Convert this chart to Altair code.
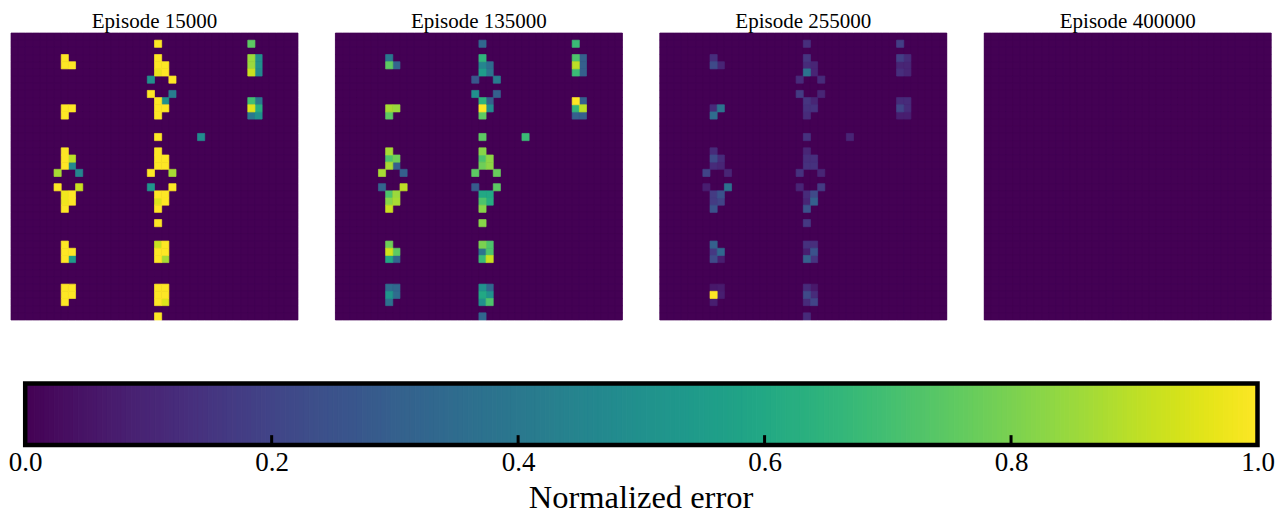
import altair as alt
import pandas as pd

GRID = 40
EPISODES = ["Episode 15000", "Episode 135000", "Episode 255000", "Episode 400000"]
TICKS = [0.0, 0.2, 0.4, 0.6, 0.8, 1.0]

ROWS = [1,1, 3,3,3,3, 4,4,4,4,4,4, 5,5,5,5, 6,6, 8,8, 9,9,9,9, 10,10,10,10,10,10, 11,11,11,11,
        14,14, 16,16, 17,17,17,17, 18,18,18,18, 19,19,19,19, 21,21,21,21, 22,22,22,22, 23,23,23,23,
        24,24, 26, 29,29,29, 30,30,30,30, 31,31,31,31, 35,35,35,35, 36,36,36,36, 37,37,37, 39]
COLS = [20,33, 7,20,33,34, 7,8,20,21,33,34, 20,21,33,34, 19,22, 19,22, 20,21,33,34, 7,8,20,21,33,34, 7,20,33,34,
        20,26, 7,20, 7,8,20,21, 7,8,20,21, 6,9,19,22, 6,9,19,22, 7,8,20,21, 7,8,20,21,
        7,20, 20, 7,20,21, 7,8,20,21, 7,8,20,21, 7,8,20,21, 7,8,20,21, 7,20,21, 20]
E15000 = [1,.75, 1,1,.85,.5, 1,1,1,1,.85,.5, .97,1,.92,.47, .5,1, 1,.42, 1,.5,.7,.4, 1,1,1,1,.95,.62, 1,1,.4,.5,
          1,.48, 1,1, 1,.9,1,1, 1,.47,1,1, .87,.45,1,.87, 1,.92,.52,1, .98,1,1,1, .98,1,.95,1,
          1,1, 1, 1,.92,1, 1,1,1,1, 1,.55,1,.87, 1,1,1,1, 1,1,1,1, 1,1,.95, 1]
E135000 = [.33,.68, .4,.65,.72,.3, .75,.32,.45,.35,.9,.3, .55,.38,.68,.3, .27,.42, .5,.3, .65,.3,1,.3, .87,.85,1,.48,.66,.9, .75,.75,.3,.3,
           .75,.68, .87,.82, .72,.78,.72,.83, .87,.3,.78,.83, .87,.3,.75,.77, .32,.9,.28,.75, .72,.85,.6,.6, .82,.87,.72,.62,
           .92,.82, .82, .78,.8,.72, .93,.75,.38,.72, .6,.33,.68,.92, .35,.33,.5,.33, .52,.35,.6,.5, .37,.5,.72, .33]
E255000 = [.13,.18, .13,.15,.18,.12, .22,.1,.12,.1,.1,.1, .38,.1,.13,.1, .12,.12, .17,.1, .15,.1,.12,.12, .12,.38,.14,.14,.2,.12, .35,.12,.08,.08,
           .14,.1, .12,.1, .22,.12,.13,.13, .12,.1,.14,.14, .2,.1,.14,.1, .08,.37,.1,.17, .17,.25,.12,.22, .17,.2,.1,.3,
           .25,.25, .16, .3,.14,.13, .16,.33,.08,.25, .22,.08,.3,.15, .06,.07,.12,.06, 1,.08,.22,.12, .08,.12,.2, .12]
E400000 = [0] * len(ROWS)
SERIES = [E15000, E135000, E255000, E400000]

LEVELS = 256
FONT = "Liberation Serif"
VIRIDIS0 = "#440154"
ROW_WIDTH = 1259
BAR_WIDTH = 1232.3
BAR_LEFT = 14.2
viridis = alt.Scale(scheme="viridis", domain=[0, 1])


def panel(title, values):
    lookup = {(r, c): v for r, c, v in zip(ROWS, COLS, values)}
    df = pd.DataFrame(
        [{"r": r, "r2": r + 1, "c": c, "c2": c + 1, "v": lookup.get((r, c), 0)}
         for r in range(GRID) for c in range(GRID)]
    ).sort_values("v", kind="stable")
    return (
        alt.Chart(df)
        .mark_rect(strokeWidth=0.7)
        .encode(
            x=alt.X("c:Q", scale=alt.Scale(domain=[0, GRID], nice=False), axis=None),
            x2="c2:Q",
            y=alt.Y("r:Q", scale=alt.Scale(domain=[GRID, 0], nice=False), axis=None),
            y2="r2:Q",
            color=alt.Color("v:Q", scale=viridis, legend=None),
            stroke=alt.Color("v:Q", scale=viridis, legend=None),
            order=alt.Order("v:Q"),
        )
        .properties(
            width=287,
            height=287,
            view=alt.ViewConfig(fill=VIRIDIS0),
            title=alt.TitleParams(title, font=FONT, fontSize=21, fontWeight="normal", color="black", offset=0.7),
        )
    )


row = alt.hconcat(*[panel(t, s) for t, s in zip(EPISODES, SERIES)], spacing=35.4)

bar_df = pd.DataFrame(
    {
        "a": [i / LEVELS for i in range(LEVELS)],
        "b": [(i + 1) / LEVELS for i in range(LEVELS)],
        "v": [(i + 0.5) / LEVELS for i in range(LEVELS)],
    }
)
x_scale = alt.Scale(domain=[-BAR_LEFT / BAR_WIDTH, (ROW_WIDTH - BAR_LEFT) / BAR_WIDTH], nice=False)
y_scale = alt.Scale(domain=[0, 1], nice=False)

grad = (
    alt.Chart(bar_df)
    .mark_rect(strokeWidth=1)
    .encode(
        x=alt.X(
            "a:Q",
            scale=x_scale,
            axis=alt.Axis(
                values=TICKS, format=".1f", title="Normalized error", grid=False, domain=False, tickSize=0,
                labelFont=FONT, labelFontSize=27, labelColor="black", labelPadding=4,
                labelOverlap=False, labelFlush=False,
                titleFont=FONT, titleFontSize=32.5, titleFontWeight="normal", titleColor="black", titlePadding=6,
            ),
        ),
        x2="b:Q",
        y=alt.value(0),
        y2=alt.value(61.5),
        color=alt.Color("v:Q", scale=viridis, legend=None),
        stroke=alt.Color("v:Q", scale=viridis, legend=None),
    )
)
tick_df = pd.DataFrame({"t": TICKS[1:-1], "y0": [0.0] * 4, "y1": [0.16] * 4})
ticks = (
    alt.Chart(tick_df)
    .mark_rule(color="black", strokeWidth=3)
    .encode(
        x=alt.X("t:Q", scale=x_scale),
        y=alt.Y("y0:Q", scale=y_scale, axis=None),
        y2="y1:Q",
    )
)
box = (
    alt.Chart(pd.DataFrame({"a": [TICKS[0]], "b": [TICKS[-1]]}))
    .mark_rect(fillOpacity=0, stroke="black", strokeWidth=4.5)
    .encode(
        x=alt.X("a:Q", scale=x_scale),
        x2="b:Q",
        y=alt.value(0),
        y2=alt.value(61.5),
    )
)
colorbar = alt.layer(grad, ticks, box).properties(width=ROW_WIDTH, height=61.5)

chart = (
    alt.vconcat(row, colorbar, spacing=59.5)
    .properties(padding={"left": 0, "top": 2, "right": 0, "bottom": 0})
    .configure_view(strokeWidth=0)
)
chart.save("out.html", embed_options={"renderer": "svg", "actions": False})
